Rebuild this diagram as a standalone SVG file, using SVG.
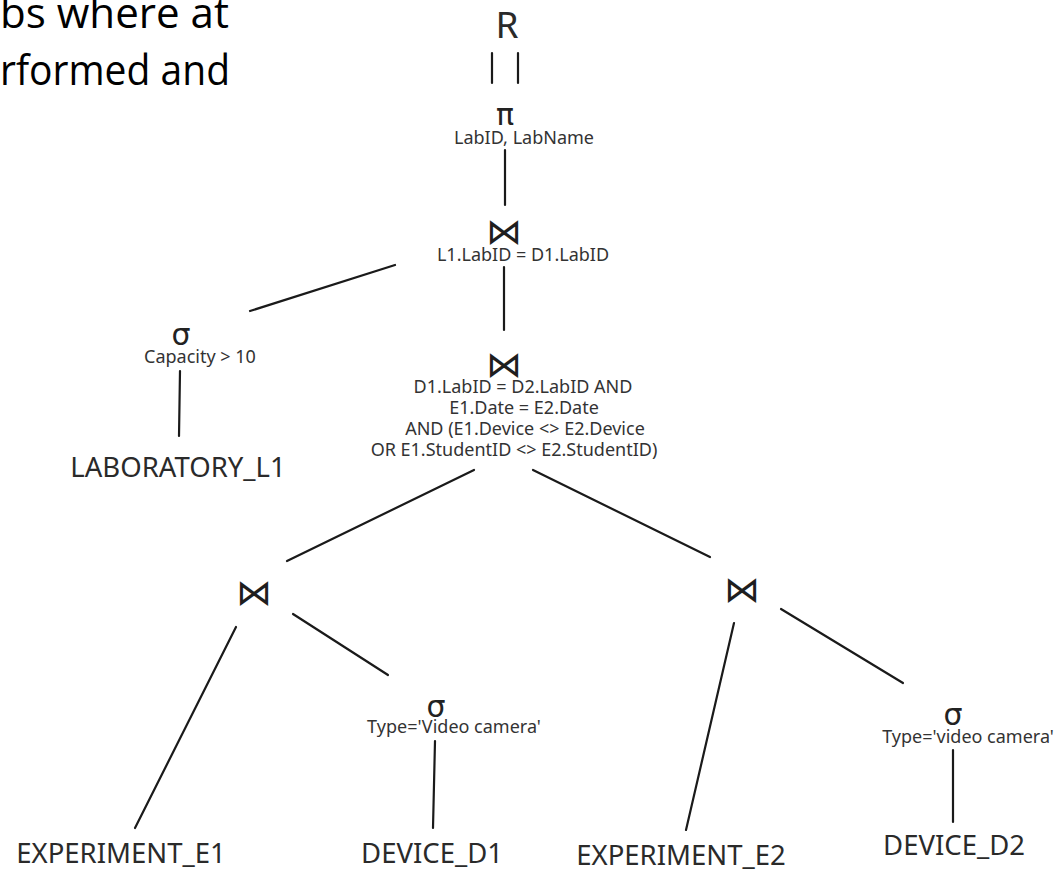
<svg xmlns="http://www.w3.org/2000/svg" width="1063" height="870" viewBox="0 0 1063 870">
  <style>
    .bg { fill: #ffffff; }
    .prose { font-family: "Open Sans", "Liberation Sans", sans-serif; font-size: 42px; fill: #000000; }
    .rel { font-family: "Noto Sans", "Open Sans", sans-serif; font-size: 27.5px; fill: #2a2a2a; text-anchor: middle; }
    .big { font-family: "Noto Sans", "Open Sans", sans-serif; font-size: 37px; fill: #2a2a2a; text-anchor: middle; }
    .op { font-family: "DejaVu Sans", sans-serif; font-size: 30px; fill: #222222; text-anchor: middle; }
    .join { font-family: "DejaVu Sans", sans-serif; font-size: 36px; fill: #1e1e1e; text-anchor: middle; }
    .cond { font-family: "Noto Sans", "Open Sans", sans-serif; font-size: 18px; fill: #333333; text-anchor: middle; }
    .edge { stroke: #1a1a1a; stroke-width: 2.2; stroke-linecap: round; fill: none; }
  </style>

  <rect class="bg" x="0" y="0" width="1063" height="870"/>

  <!-- fragment of the surrounding query description -->
  <g id="caption">
    <text class="prose" x="0" y="28" textLength="229" lengthAdjust="spacingAndGlyphs">bs where at</text>
    <text class="prose" x="0" y="85" textLength="230" lengthAdjust="spacingAndGlyphs">rformed and</text>
  </g>

  <!-- edges of the operator tree -->
  <g id="connectors">
    <line class="edge" x1="492" y1="53" x2="492" y2="83"/>
    <line class="edge" x1="518" y1="53" x2="518" y2="83"/>
    <line class="edge" x1="505" y1="150" x2="505" y2="205"/>
    <line class="edge" x1="395" y1="265" x2="250" y2="311"/>
    <line class="edge" x1="504" y1="267" x2="504" y2="330"/>
    <line class="edge" x1="180" y1="371" x2="179" y2="436"/>
    <line class="edge" x1="474" y1="470" x2="287" y2="561"/>
    <line class="edge" x1="533" y1="470" x2="710" y2="557"/>
    <line class="edge" x1="236" y1="627" x2="135" y2="828"/>
    <line class="edge" x1="293" y1="614" x2="388" y2="675"/>
    <line class="edge" x1="435" y1="741" x2="433" y2="828"/>
    <line class="edge" x1="734" y1="623" x2="686" y2="830"/>
    <line class="edge" x1="781" y1="609" x2="903" y2="683"/>
    <line class="edge" x1="953" y1="750" x2="953" y2="822"/>
  </g>

  <g id="result">
    <text class="big" x="507" y="38">R</text>
  </g>

  <g id="projection">
    <text class="op" x="505" y="125">π</text>
    <text class="cond" x="524" y="144">LabID, LabName</text>
  </g>

  <g id="join-lab-device">
    <text class="join" x="504" y="244">⋈</text>
    <text class="cond" x="523" y="261">L1.LabID = D1.LabID</text>
  </g>

  <g id="select-capacity">
    <text class="op" x="181" y="345">σ</text>
    <text class="cond" x="200" y="363">Capacity &gt; 10</text>
  </g>

  <g id="laboratory-l1">
    <text class="rel" x="178" y="477">LABORATORY_L1</text>
  </g>

  <g id="join-pairs">
    <text class="join" x="504" y="377">⋈</text>
    <text class="cond" x="523" y="393">D1.LabID = D2.LabID AND</text>
    <text class="cond" x="524" y="414">E1.Date = E2.Date</text>
    <text class="cond" x="525" y="435">AND (E1.Device &lt;&gt; E2.Device</text>
    <text class="cond" x="514" y="456">OR E1.StudentID &lt;&gt; E2.StudentID)</text>
  </g>

  <g id="join-e1-d1">
    <text class="join" x="254" y="605">⋈</text>
  </g>

  <g id="experiment-e1">
    <text class="rel" x="121" y="863">EXPERIMENT_E1</text>
  </g>

  <g id="select-d1">
    <text class="op" x="436" y="717">σ</text>
    <text class="cond" x="454" y="733">Type='Video camera'</text>
  </g>

  <g id="device-d1">
    <text class="rel" x="432" y="863">DEVICE_D1</text>
  </g>

  <g id="join-e2-d2">
    <text class="join" x="742" y="602">⋈</text>
  </g>

  <g id="experiment-e2">
    <text class="rel" x="681" y="865">EXPERIMENT_E2</text>
  </g>

  <g id="select-d2">
    <text class="op" x="953" y="725">σ</text>
    <text class="cond" x="968" y="743">Type='video camera'</text>
  </g>

  <g id="device-d2">
    <text class="rel" x="954" y="855">DEVICE_D2</text>
  </g>
</svg>
